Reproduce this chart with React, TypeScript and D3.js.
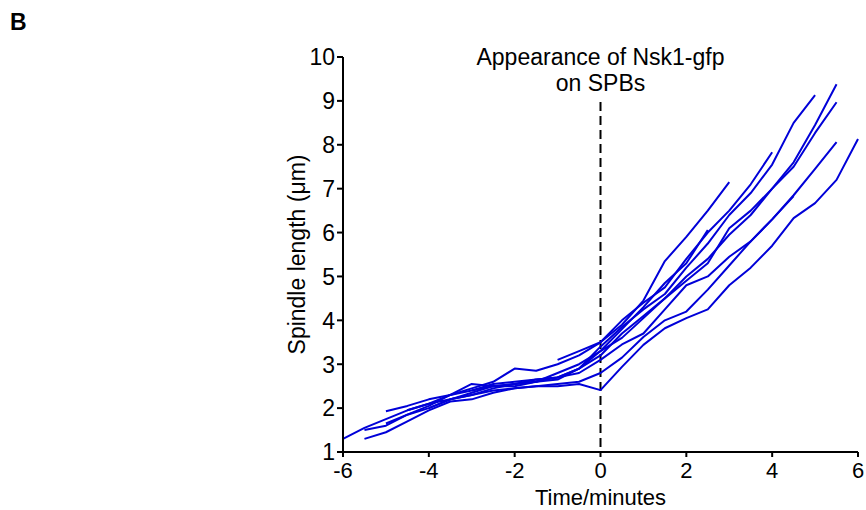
import * as d3 from 'd3';

// spindle length traces, one value every 0.5 min from the start time
const traceStarts = [-6, -5.5, -5.5, -5, -5, -4.5, -4, -3, -1];
const trace1 = [1.3, 1.55, 1.75, 1.95, 2.1, 2.2, 2.3, 2.4, 2.45, 2.5, 2.5, 2.55, 2.41, 2.94, 3.44, 3.82, 4.05, 4.25, 4.8, 5.2, 5.7, 6.33, 6.67, 7.2, 8.13];
const trace2 = [1.3, 1.45, 1.7, 1.95, 2.15, 2.2, 2.35, 2.45, 2.5, 2.55, 2.6, 2.8, 3.15, 3.62, 4.0, 4.2, 4.7, 5.25, 5.8, 6.3, 6.85, 7.45, 8.06];
const trace3 = [1.5, 1.6, 1.85, 2.05, 2.3, 2.4, 2.5, 2.55, 2.65, 2.7, 2.9, 3.2, 3.7, 4.1, 4.5, 5.0, 5.4, 5.95, 6.4, 7.0, 7.6, 8.45, 9.38];
const trace4 = [1.93, 2.05, 2.2, 2.3, 2.45, 2.6, 2.9, 2.85, 3.0, 3.2, 3.5, 4.0, 4.4, 4.75, 5.4, 6.0, 6.5, 7.1, 7.83];
const trace5 = [1.65, 1.85, 2.0, 2.2, 2.3, 2.45, 2.55, 2.6, 2.7, 2.8, 3.1, 3.45, 3.7, 4.25, 4.8, 5.0, 5.45, 5.8, 6.3, 6.83];
const trace6 = [1.95, 2.1, 2.3, 2.55, 2.5, 2.5, 2.6, 2.8, 3.0, 3.3, 3.6, 4.05, 4.5, 4.9, 5.3, 6.1, 6.5, 7.0, 7.5, 8.27, 8.97];
const trace7 = [2.0, 2.2, 2.35, 2.5, 2.55, 2.6, 2.65, 2.9, 3.3, 3.8, 4.3, 4.85, 5.3, 6.06];
const trace8 = [2.4, 2.55, 2.6, 2.65, 2.7, 2.9, 3.4, 3.85, 4.25, 4.6, 5.2, 5.75, 6.4, 6.9, 7.55, 8.5, 9.13];
const trace9 = [3.1, 3.3, 3.5, 3.9, 4.45, 5.35, 5.9, 6.5, 7.15];
const traces = [trace1, trace2, trace3, trace4, trace5, trace6, trace7, trace8, trace9];

const xTicks = [-6, -4, -2, 0, 2, 4, 6];
const yTicks = [1, 2, 3, 4, 5, 6, 7, 8, 9, 10];

const font = 'Arial, "Liberation Sans", sans-serif';

export default function App() {
  const width = 866;
  const height = 510;
  const margin = { top: 57, right: 8, bottom: 58, left: 343 };

  const x = d3.scaleLinear().domain([-6, 6]).range([margin.left, width - margin.right]);
  const y = d3.scaleLinear().domain([1, 10]).range([height - margin.bottom, margin.top]);

  const line = d3.line<[number, number]>()
    .x(d => x(d[0]))
    .y(d => y(d[1]));

  const series = traces.map((vals, i) =>
    vals.map((v, j) => [traceStarts[i] + j * 0.5, v] as [number, number])
  );

  const x0 = x(-6);
  const y0 = y(1);

  return (
    <svg
      width={width}
      height={height}
      style={{ position: 'absolute', left: 0, top: 0, background: '#fff' }}
      fontFamily={font}
    >
      <text x={10} y={30} fontSize={23} fontWeight="bold">B</text>

      {/* dashed marker at t = 0 */}
      <line
        x1={x(0)} x2={x(0)} y1={102} y2={y0}
        stroke="#000" strokeWidth={2} strokeDasharray="9,5"
      />
      <text x={x(0)} y={65} fontSize={23} textAnchor="middle">Appearance of Nsk1-gfp</text>
      <text x={x(0)} y={91} fontSize={23} textAnchor="middle">on SPBs</text>

      {series.map((s, i) => (
        <path key={i} d={line(s) || ''} fill="none" stroke="#0000d8" strokeWidth={2} strokeLinejoin="round" />
      ))}

      {/* y axis */}
      <line x1={x0} x2={x0} y1={y(10)} y2={y0} stroke="#000" strokeWidth={2} />
      {yTicks.map(t => (
        <g key={t}>
          <line x1={x0 - 6} x2={x0} y1={y(t)} y2={y(t)} stroke="#000" strokeWidth={2} />
          <text x={x0 - 8} y={y(t)} dy="0.36em" fontSize={23} textAnchor="end">{t}</text>
        </g>
      ))}

      {/* x axis */}
      <line x1={x0} x2={x(6)} y1={y0} y2={y0} stroke="#000" strokeWidth={2} />
      {xTicks.map(t => (
        <g key={t}>
          <line x1={x(t)} x2={x(t)} y1={y0} y2={y0 + 5} stroke="#000" strokeWidth={2} />
          <text x={x(t)} y={y0 + 26} fontSize={22} textAnchor="middle">{t}</text>
        </g>
      ))}

      <text x={x(0)} y={505} fontSize={22} textAnchor="middle">Time/minutes</text>
      <text
        transform={`translate(305,${(y(10) + y0) / 2}) rotate(-90)`}
        fontSize={23}
        textAnchor="middle"
      >
        Spindle length (μm)
      </text>
    </svg>
  );
}
